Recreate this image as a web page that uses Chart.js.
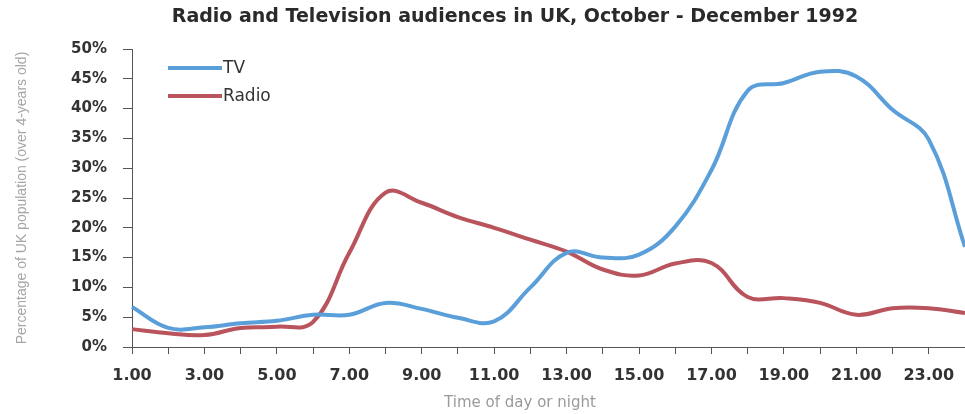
<!DOCTYPE html>
<html>
<head>
<meta charset="utf-8">
<title>Radio and Television audiences in UK</title>
<script src="https://cdn.jsdelivr.net/npm/chart.js@4"></script>
<style>
    html, body { margin: 0; padding: 0; background: #fff; }
    #chart { display: block; }
</style>
</head>
<body>
<canvas id="chart" width="965" height="414"></canvas>
<script>
// Hours of the day (x categories)
const hours = ['1.00', '2.00', '3.00', '4.00', '5.00', '6.00', '7.00', '8.00', '9.00', '10.00', '11.00', '12.00',
    '13.00', '14.00', '15.00', '16.00', '17.00', '18.00', '19.00', '20.00', '21.00', '22.00', '23.00', '24.00'];

// Audience share, % of UK population
const tvAudience = [6.7, 3.2, 3.3, 4.0, 4.4, 5.4, 5.4, 7.4, 6.4, 4.9, 4.3, 10.0,
    15.8, 15.0, 15.5, 20.2, 29.7, 43.0, 44.3, 46.2, 45.4, 39.8, 34.8, 16.8];
const radioAudience = [3.0, 2.3, 2.0, 3.2, 3.4, 4.2, 15.8, 25.9, 24.2, 21.8, 20.0, 18.0,
    16.0, 13.0, 12.0, 14.0, 14.1, 8.4, 8.2, 7.4, 5.4, 6.5, 6.5, 5.7];

const yTicks = [0, 5, 10, 15, 20, 25, 30, 35, 40, 45, 50];

const chartTitle = 'Radio and Television audiences in UK, October - December 1992';
const xAxisTitle = 'Time of day or night';
const yAxisTitle = 'Percentage of UK population (over 4-years old)';

const TV_COLOR = '#5a9fd9';
const RADIO_COLOR = '#b9535c';

/**
 * Legend drawn inside the plot, stacked like the original.
 */
const insideLegend = {
    id: 'insideLegend',
    afterDraw(chart) {
        const ctx = chart.ctx;
        const area = chart.chartArea;
        ctx.save();
        chart.data.datasets.forEach((ds, i) => {
            const y = area.top + 19 + i * 28;
            const x = area.left + 36;
            ctx.strokeStyle = ds.borderColor;
            ctx.lineWidth = 4;
            ctx.beginPath();
            ctx.moveTo(x, y);
            ctx.lineTo(x + 54, y);
            ctx.stroke();
            ctx.fillStyle = '#333';
            ctx.font = '17px "DejaVu Sans"';
            ctx.textBaseline = 'middle';
            ctx.fillText(ds.label, x + 55, y + 1);
        });
        ctx.restore();
    }
};

/**
 * Chart title and x axis caption. The source picture is cropped on the
 * right, so both sit left of the plot centre.
 */
const captions = {
    id: 'captions',
    afterDraw(chart) {
        const ctx = chart.ctx;
        ctx.save();
        ctx.textAlign = 'center';
        ctx.textBaseline = 'middle';
        ctx.fillStyle = '#2a2a2a';
        ctx.font = 'bold 19px "DejaVu Sans"';
        ctx.fillText(chartTitle, 515, 17);
        ctx.fillStyle = '#9a9a9a';
        ctx.font = '15px "DejaVu Sans"';
        ctx.fillText(xAxisTitle, 520, 403);
        ctx.restore();
    }
};

new Chart(document.getElementById('chart').getContext('2d'), {
    type: 'line',
    data: {
        labels: hours,
        datasets: [
            {
                label: 'TV',
                data: tvAudience,
                borderColor: TV_COLOR,
                backgroundColor: TV_COLOR,
                borderWidth: 4,
                pointRadius: 0,
                tension: 0.4
            },
            {
                label: 'Radio',
                data: radioAudience,
                borderColor: RADIO_COLOR,
                backgroundColor: RADIO_COLOR,
                borderWidth: 4,
                pointRadius: 0,
                tension: 0.4
            }
        ]
    },
    options: {
        responsive: false,
        animation: false,
        layout: { padding: { left: 0, right: 0, top: 49, bottom: 0 } },
        plugins: {
            legend: { display: false },
            tooltip: { enabled: false }
        },
        scales: {
            x: {
                offset: false,
                border: { color: '#555', width: 1 },
                grid: { display: true, drawOnChartArea: false, drawTicks: true, tickLength: 7, color: '#555' },
                ticks: {
                    autoSkip: false,
                    maxRotation: 0,
                    padding: 12,
                    color: '#333',
                    font: { family: '"DejaVu Sans"', size: 16, weight: 'bold' },
                    callback: (value, index) => index % 2 === 0 ? hours[index] : ''
                },
                afterFit(scale) {
                    scale.height = 67;
                    scale.paddingRight = 0;
                }
            },
            y: {
                min: 0,
                max: 50,
                afterBuildTicks(scale) { scale.ticks = yTicks.map(v => ({ value: v })); },
                border: { color: '#555', width: 1 },
                grid: { display: true, drawOnChartArea: false, drawTicks: true, tickLength: 9, color: '#555' },
                ticks: {
                    padding: 16,
                    color: '#333',
                    font: { family: '"DejaVu Sans"', size: 15, weight: 'bold' },
                    callback: value => value + '%'
                },
                title: {
                    display: true,
                    text: yAxisTitle,
                    color: '#a5a5a5',
                    font: { family: '"Liberation Sans"', size: 14 },
                    padding: { top: 14, bottom: 0 }
                },
                afterFit(scale) { scale.width = 132; }
            }
        }
    },
    plugins: [insideLegend, captions]
});
</script>
</body>
</html>
